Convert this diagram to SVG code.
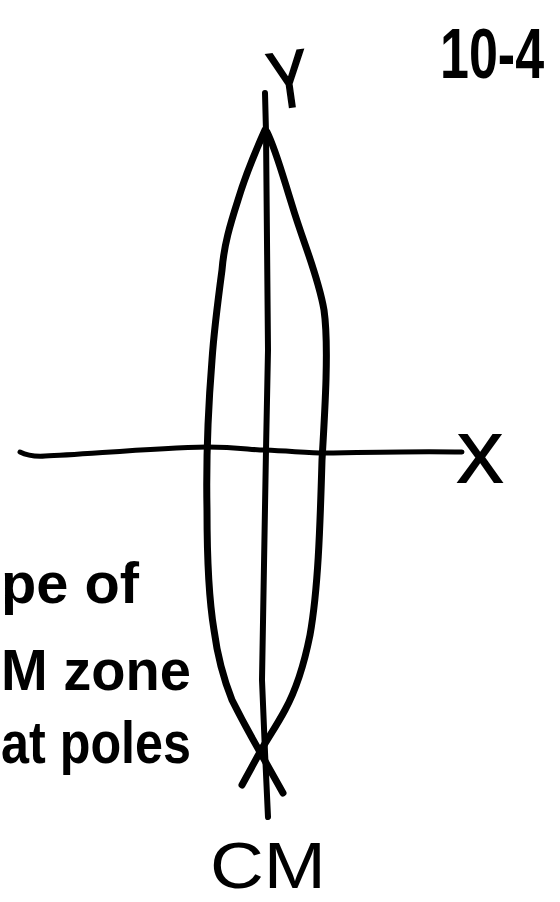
<svg xmlns="http://www.w3.org/2000/svg" width="560" height="902" viewBox="0 0 560 902">
<style>
.ln{fill:none;stroke:#000;stroke-linecap:round;stroke-linejoin:round}
.bold{font-family:"Liberation Sans",Arial,sans-serif;font-weight:bold;fill:#000}
.reg{font-family:"Liberation Sans",Arial,sans-serif;fill:#000}
</style>
<rect width="560" height="902" fill="#fff"/>
<g id="connectors">
<path id="y-axis" class="ln" stroke-width="6" d="M265,93 L266,132 L268,350 L266,450 L262,680 L265,752 L268,817"/>
<path id="x-axis" class="ln" stroke-width="5" d="M20,452 Q30,457 45,456 C80,455 150,448 207,447 C240,447 250,450 265,450 C290,451 310,453 325,453 C380,452 420,451 462,452"/>
<path id="lens-left" class="ln" stroke-width="7" d="M265,130 C256,150 244,180 238,200 C230,225 224,245 222,270 C218,300 214,330 212,360 C208,410 206,460 207,510 C207,560 209,600 214,630 C218,660 224,680 232,700 C242,720 252,738 260,752 L283,793"/>
<path id="lens-right" class="ln" stroke-width="7" d="M267,132 C276,150 284,180 292,205 C304,245 318,275 324,310 C329,345 325,410 322,460 C320,530 318,590 310,635 C304,665 296,690 285,710 C277,725 268,738 260,752 L242,785"/>
</g>
<g id="label-y"><text class="reg" x="268" y="107" font-size="80" stroke="#000" stroke-width="2" transform="rotate(-8 288 76)" textLength="40" lengthAdjust="spacingAndGlyphs">Y</text></g>
<g id="label-x"><text class="reg" x="457" y="482" font-size="68" stroke="#000" stroke-width="2" textLength="46" lengthAdjust="spacingAndGlyphs">X</text></g>
<g id="label-10-4" transform="translate(440,78) scale(1,1.35)"><text class="bold" x="0" y="0" font-size="52">10-4</text></g>
<g id="label-cm"><text class="reg" x="210" y="888" font-size="64" textLength="116" lengthAdjust="spacingAndGlyphs">CM</text></g>
<g id="note">
<text class="bold" x="1" y="603" font-size="58" textLength="138" lengthAdjust="spacingAndGlyphs">pe of</text>
<text class="bold" x="1" y="690" font-size="58" textLength="190" lengthAdjust="spacingAndGlyphs">M zone</text>
<text class="bold" x="1" y="763" font-size="60" textLength="190" lengthAdjust="spacingAndGlyphs">at poles</text>
</g>
</svg>
